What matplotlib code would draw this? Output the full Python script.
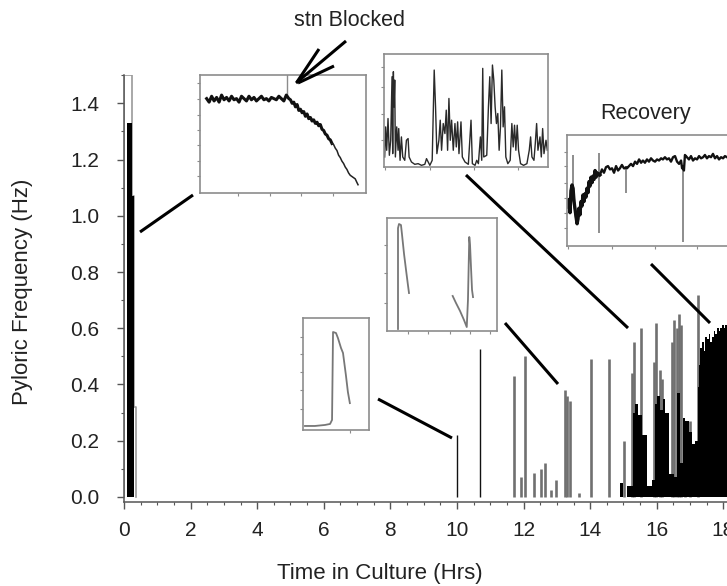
import matplotlib
matplotlib.use('Agg')
import matplotlib.pyplot as plt
from matplotlib.lines import Line2D
from matplotlib.ticker import MultipleLocator, FormatStrFormatter

plt.rcParams['font.family'] = ['Liberation Sans', 'DejaVu Sans']

# ---------------- main trace data ----------------
onset_fill_t = [0.10, 0.25, 0.30]
onset_fill_v = [1.33, 1.07, 1.07]
onset_gray_t = [0.00, 0.00, 0.25, 0.25, 0.30, 0.30, 0.35, 0.35]
onset_gray_v = [0.00, 1.50, 1.50, 1.07, 1.07, 0.32, 0.32, 0.00]

iso_t = [10.0, 10.7]
iso_v = [0.22, 0.525]

burst_t = [11.71, 11.93, 12.04, 12.31, 12.53, 12.64, 12.81, 12.96, 13.23, 13.31,
           13.39, 13.66, 14.03, 14.58, 15.03, 15.25, 15.31, 15.54, 15.93, 15.99,
           16.10, 16.16, 16.45, 16.51, 16.60, 16.66, 16.74, 16.86, 17.01, 17.23]
burst_v = [0.43, 0.07, 0.50, 0.085, 0.10, 0.12, 0.025, 0.06, 0.38, 0.36,
           0.34, 0.015, 0.49, 0.49, 0.20, 0.44, 0.55, 0.60, 0.48, 0.62,
           0.45, 0.42, 0.55, 0.63, 0.60, 0.65, 0.61, 0.27, 0.27, 0.72]

dense_t = [14.90, 15.00, 15.10, 15.28, 15.36, 15.45, 15.56, 15.71, 15.86, 15.95,
           16.02, 16.10, 16.18, 16.26, 16.36, 16.51, 16.60, 16.70, 16.78, 16.86,
           16.96, 17.06, 17.15, 17.23, 17.27, 17.31, 17.36, 17.41, 17.46, 17.51,
           17.56, 17.61, 17.66, 17.71, 17.76, 17.81, 17.86, 17.91, 17.96, 18.01,
           18.06, 18.11, 18.16, 18.20]
dense_v = [0.05, 0.00, 0.04, 0.30, 0.33, 0.29, 0.22, 0.04, 0.06, 0.33,
           0.36, 0.31, 0.35, 0.30, 0.08, 0.07, 0.37, 0.12, 0.28, 0.27,
           0.23, 0.19, 0.20, 0.39, 0.47, 0.53, 0.55, 0.52, 0.57, 0.56,
           0.58, 0.55, 0.57, 0.59, 0.58, 0.60, 0.59, 0.60, 0.61, 0.60,
           0.61, 0.62, 0.62, 0.62]

x_ticks = [0, 2, 4, 6, 8, 10, 12, 14, 16, 18]
y_ticks = [0.0, 0.2, 0.4, 0.6, 0.8, 1.0, 1.2, 1.4]

# ---------------- inset traces (fractions of inset box) ----------------
# inset 1: stn blocked
blk_x = [0.04, 0.055, 0.07, 0.085, 0.10, 0.115, 0.13, 0.145, 0.16, 0.175, 0.19, 0.205,
         0.22, 0.235, 0.25, 0.265, 0.28, 0.295, 0.31, 0.325, 0.34, 0.355, 0.37, 0.385,
         0.40, 0.415, 0.43, 0.445, 0.46, 0.475, 0.49, 0.505, 0.52, 0.535,
         0.545, 0.555, 0.565, 0.575, 0.585, 0.595, 0.605, 0.615, 0.625, 0.635, 0.645,
         0.655, 0.665, 0.675, 0.685, 0.695, 0.705, 0.715, 0.725, 0.735, 0.745, 0.755,
         0.765, 0.775, 0.785, 0.795, 0.805, 0.815, 0.825, 0.835, 0.845, 0.855, 0.865,
         0.875, 0.885, 0.895, 0.905, 0.915, 0.925, 0.935, 0.945, 0.952]
blk_y = [0.80, 0.77, 0.82, 0.78, 0.81, 0.77, 0.83, 0.79, 0.81, 0.78, 0.82, 0.79,
         0.80, 0.77, 0.82, 0.80, 0.78, 0.82, 0.79, 0.81, 0.78, 0.80, 0.82, 0.79,
         0.80, 0.78, 0.81, 0.80, 0.79, 0.82, 0.80, 0.78, 0.83, 0.80,
         0.79, 0.76, 0.77, 0.73, 0.75, 0.70, 0.71, 0.68, 0.69, 0.65, 0.67,
         0.63, 0.64, 0.61, 0.62, 0.59, 0.60, 0.57, 0.58, 0.54, 0.53, 0.50,
         0.49, 0.46, 0.45, 0.42, 0.41, 0.38, 0.36, 0.32, 0.30, 0.27, 0.25,
         0.22, 0.20, 0.17, 0.15, 0.14, 0.13, 0.12, 0.09, 0.07]
blk_mark_x = [0.524, 0.524]
blk_mark_y = [1.00, 0.83]

# inset 2: bursting (x in samples 0-490, y in height units 0-338)
bur_x = [2, 5, 8, 12, 16, 20, 24, 26, 28, 30, 32, 34, 38, 42, 44, 48, 52, 56, 62, 67,
         72, 75, 82, 92, 102, 112, 122, 127, 132, 137, 144, 150, 154, 158, 164, 168,
         172, 177, 182, 186, 190, 194, 198, 202, 207, 212, 216, 220, 224, 230, 234,
         242, 252, 260, 264, 272, 277, 282, 288, 292, 295, 298, 307, 312, 316, 320,
         324, 328, 332, 336, 340, 344, 348, 352, 356, 360, 364, 370, 377, 382, 386,
         390, 394, 398, 402, 408, 417, 427, 434, 438, 442, 448, 452, 456, 460, 466,
         470, 474, 478, 484, 488]
bur_y = [30, 120, 50, 145, 35, 80, 270, 40, 285, 180, 260, 30, 120, 50, 115, 20, 90,
         30, 20, 80, 85, 30, 15, 8, 10, 5, 8, 25, 15, 5, 20, 290, 180, 40, 80, 140,
         50, 130, 100, 170, 50, 205, 80, 140, 50, 130, 60, 135, 40, 135, 30, 15, 8,
         140, 10, 5, 20, 10, 90, 20, 295, 30, 35, 180, 270, 130, 305, 260, 180, 130,
         160, 50, 120, 290, 120, 180, 30, 10, 20, 130, 60, 125, 50, 125, 50, 10, 5,
         10, 50, 90, 30, 20, 70, 130, 50, 90, 30, 115, 40, 80, 50]

# inset 3: recovery (main trace + brief excursions)
rec_x = [0.006, 0.012, 0.018, 0.024, 0.030, 0.036, 0.042, 0.048, 0.054, 0.060, 0.065,
         0.071, 0.077, 0.083, 0.089, 0.095, 0.101, 0.107, 0.113, 0.119, 0.125, 0.131,
         0.137, 0.143, 0.149, 0.155, 0.161, 0.167, 0.173, 0.179, 0.185, 0.190, 0.196,
         0.208, 0.220, 0.232, 0.244, 0.256, 0.268, 0.280, 0.292, 0.304, 0.315, 0.327,
         0.339, 0.345, 0.351, 0.357, 0.369, 0.381, 0.393, 0.405, 0.417, 0.429, 0.441,
         0.452, 0.464, 0.476, 0.488, 0.500, 0.512, 0.524, 0.536, 0.548, 0.560, 0.571,
         0.583, 0.595, 0.607, 0.619, 0.631, 0.643, 0.655, 0.667, 0.679, 0.685, 0.690,
         0.696, 0.702, 0.714, 0.726, 0.738, 0.750, 0.762, 0.774, 0.786, 0.798, 0.810,
         0.821, 0.833, 0.845, 0.857, 0.869, 0.881, 0.893, 0.905, 0.917, 0.929, 0.940,
         0.952]
rec_y = [0.35, 0.42, 0.30, 0.50, 0.55, 0.52, 0.40, 0.33, 0.26, 0.20, 0.24,
         0.34, 0.28, 0.40, 0.36, 0.46, 0.40, 0.47, 0.44, 0.52, 0.48, 0.58,
         0.54, 0.62, 0.57, 0.63, 0.60, 0.68, 0.62, 0.66, 0.64, 0.65, 0.64,
         0.69, 0.66, 0.71, 0.72, 0.69, 0.70, 0.66, 0.72, 0.68, 0.70, 0.73,
         0.70, 0.70, 0.71, 0.70, 0.72, 0.74, 0.72, 0.76, 0.74, 0.78, 0.75,
         0.77, 0.75, 0.78, 0.76, 0.79, 0.77, 0.76, 0.78, 0.77, 0.79, 0.78,
         0.80, 0.78, 0.79, 0.76, 0.80, 0.81, 0.76, 0.74, 0.77, 0.70, 0.72,
         0.68, 0.82, 0.80, 0.78, 0.81, 0.77, 0.79, 0.78, 0.81, 0.79, 0.80,
         0.82, 0.79, 0.81, 0.80, 0.83, 0.79, 0.81, 0.78, 0.80, 0.79, 0.81,
         0.80]
rec_spk_x = [0.036, 0.190, 0.351, 0.690]
rec_spk_lo = [0.45, 0.12, 0.48, 0.04]
rec_spk_hi = [0.82, 0.84, 0.71, 0.72]

# inset 4: two bursts
two_x = [0.10, 0.10, 0.109, 0.127, 0.136, 0.155, 0.173, 0.19, 0.20, None,
         0.597, 0.627, 0.664, 0.70, 0.725, 0.736, 0.748, 0.755, 0.764, 0.773, 0.782]
two_y = [0.018, 0.91, 0.947, 0.938, 0.858, 0.681, 0.54, 0.41, 0.336, None,
         0.31, 0.248, 0.177, 0.097, 0.035, 0.274, 0.832, 0.76, 0.557, 0.363, 0.30]

# inset 5: first burst
one_x = [0.03, 0.18, 0.333, 0.41, 0.44, 0.455, 0.50, 0.53, 0.576, 0.606, 0.65, 0.68, 0.71]
one_y = [0.036, 0.036, 0.045, 0.054, 0.09, 0.875, 0.866, 0.82, 0.732, 0.688, 0.49, 0.34, 0.24]

# ---------------- figure ----------------
W, H = 727, 586
fig = plt.figure(figsize=(W / 100, H / 100), dpi=100)


def box(x0, y0, x1, y1):
    return [x0 / W, 1 - y1 / H, (x1 - x0) / W, (y1 - y0) / H]


AX0, AY0, AX1, AY1 = 124, 75.2, 730, 502
ax = fig.add_axes(box(AX0, AY0, AX1, AY1))
ax.set_xlim(0, 18.2)
ax.set_ylim(-0.018, 1.5)

ax.plot(onset_gray_t, onset_gray_v, color='#9a9a9a', lw=1.2, zorder=2)
ax.fill_between(onset_fill_t, 0, onset_fill_v, step='post', color='black', lw=0, zorder=3)
ax.vlines(burst_t, 0, burst_v, color='#707070', lw=1.9, zorder=2)
ax.vlines(iso_t, 0, iso_v, color='#111111', lw=1.0, zorder=3)
ax.fill_between(dense_t, 0, dense_v, step='post', color='black', lw=0, zorder=3)

for s in ['top', 'right']:
    ax.spines[s].set_visible(False)
for s in ['left', 'bottom']:
    ax.spines[s].set_color('#555555')
    ax.spines[s].set_linewidth(1.1)
ax.set_xticks(x_ticks)
ax.set_yticks(y_ticks)
ax.xaxis.set_minor_locator(MultipleLocator(0.5))
ax.yaxis.set_minor_locator(MultipleLocator(0.1))
ax.yaxis.set_major_formatter(FormatStrFormatter('%.1f'))
ax.tick_params(which='major', length=5, width=1, color='#555555', labelsize=15,
               labelcolor='#222222')
ax.tick_params(axis='y', which='major', pad=13)
ax.tick_params(axis='x', which='major', pad=9)
ax.tick_params(which='minor', length=2.5, width=0.8, color='#555555')
ax.set_xlabel('Time in Culture (Hrs)', fontsize=16, color='#222222')
ax.set_ylabel('Pyloric Frequency (Hz)', fontsize=16, color='#222222')
ax.xaxis.set_label_coords((380 - AX0) / (AX1 - AX0), -(563 - AY1) / (AY1 - AY0))
ax.yaxis.set_label_coords(-(AX0 - 33) / (AX1 - AX0), (AY1 - 292) / (AY1 - AY0))


def inset(b, xt, yt, xlim=(0, 1), ylim=(0, 1)):
    a = fig.add_axes(box(*b))
    a.set_xlim(*xlim)
    a.set_ylim(*ylim)
    for s in a.spines.values():
        s.set_color('#8c8c8c')
        s.set_linewidth(1.2)
    a.set_xticks(xt)
    a.set_yticks(yt)
    a.tick_params(length=2, width=0.8, colors='#8c8c8c', labelbottom=False, labelleft=False)
    return a


a1 = inset((200, 75, 366, 193), [0.23, 0.42, 0.61, 0.80], [0.14, 0.27, 0.41, 0.53, 0.66, 0.80, 0.93])
a1.plot(blk_mark_x, blk_mark_y, color='#8c8c8c', lw=1.0)
a1.plot(blk_x[:60], blk_y[:60], color='#111111', lw=2.2)
a1.plot(blk_x[59:], blk_y[59:], color='#222222', lw=1.1)

a2 = inset((384, 54, 548, 167), [3, 137, 269, 401], [80, 160, 240, 300], xlim=(0, 490), ylim=(0, 338))
a2.plot(bur_x, bur_y, color='#2a2a2a', lw=1.0)

a3 = inset((567, 135, 735, 246), [0.008, 0.266, 0.524, 0.772], [0.16, 0.30, 0.43, 0.57, 0.72, 0.85])
a3.vlines(rec_spk_x, rec_spk_lo, rec_spk_hi, color='#7a7a7a', lw=1.2)
a3.plot(rec_x, rec_y, color='#111111', lw=1.7)
a3.plot(rec_x[:33], rec_y[:33], color='#111111', lw=2.4)

a4 = inset((387, 218, 497, 331), [0.19, 0.37, 0.57, 0.75, 0.94], [0.25, 0.51, 0.76])
a4.plot(two_x, two_y, color='#777777', lw=1.3)

a5 = inset((303, 318, 369, 430), [0.71], [0.19, 0.36, 0.52, 0.68, 0.83])
a5.plot(one_x, one_y, color='#777777', lw=1.3)

# connector lines and arrow
connectors = [((140, 232), (193, 195)), ((466, 175), (628, 328)), ((651, 264), (710, 323)),
              ((505, 323), (558, 384)), ((378, 399), (452, 438)),
              ((346, 41), (296, 83)), ((319, 49), (297, 82)), ((334, 66), (298, 83))]
for (x0, y0), (x1, y1) in connectors:
    fig.add_artist(Line2D([x0 / W, x1 / W], [1 - y0 / H, 1 - y1 / H], transform=fig.transFigure,
                          color='black', lw=2.2, solid_capstyle='butt'))

fig.text(350 / W, 1 - 21 / H, 'stn Blocked', ha='center', va='center', fontsize=15.5, color='#222222')
fig.text(646 / W, 1 - 113 / H, 'Recovery', ha='center', va='center', fontsize=15.5, color='#222222')

fig.savefig('out.png', dpi=100)
